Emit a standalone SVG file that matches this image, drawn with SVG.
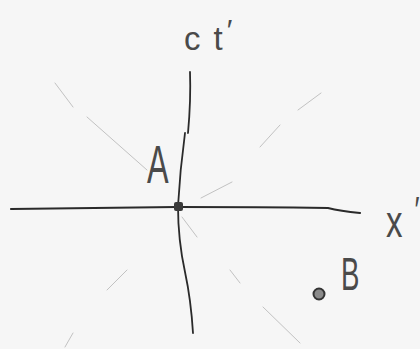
<svg xmlns="http://www.w3.org/2000/svg" width="420" height="349" viewBox="0 0 420 349">
<style>
.axis{fill:none;stroke:#2a2a2a;stroke-linecap:round;stroke-linejoin:round}
.cone{fill:none;stroke:#c2c2c2;stroke-width:1;stroke-linecap:round}
.lbl{font-family:"Liberation Sans",Arial,sans-serif;fill:#4a4a4a;font-weight:normal}
</style>
<rect width="420" height="349" fill="#f6f6f6"/>
<g id="connectors">
  <g id="light-cone">
    <path class="cone" d="M55 83 L73 107 M87 117 L147 170"/>
    <path class="cone" d="M321 93 L298 110 M280 125 L260 147 M232 182 L201 198"/>
    <path class="cone" d="M182 217 L197 237 M230 270 L240 283 M263 307 L300 343"/>
    <path class="cone" d="M127 270 L107 290 M73 333 L65 347"/>
  </g>
  <g id="axis-ct">
    <path class="axis" stroke-width="1.8" d="M190 72 Q191 100 188 133"/>
    <path class="axis" stroke-width="1.8" d="M185 133 Q180 170 178 206 Q178 240 185 272 Q191 300 193 333"/>
  </g>
  <g id="axis-x">
    <path class="axis" stroke-width="2.2" d="M11 209 Q100 208 177 207 Q260 207 328 208 Q340 211 360 213"/>
  </g>
</g>
<g id="event-A">
  <rect x="174" y="202" width="9" height="9" rx="2" fill="#3a3a3a"/>
  <text class="lbl" x="0" y="0" font-size="54" transform="translate(147 183) scale(0.6 1)">A</text>
</g>
<g id="event-B">
  <circle cx="319" cy="294" r="5.5" fill="#8a8a8a" stroke="#333" stroke-width="2"/>
  <text class="lbl" x="0" y="0" font-size="46" transform="translate(341 290) scale(0.6 1)">B</text>
</g>
<g id="label-ct">
  <text class="lbl" x="184" y="50" font-size="33">c<tspan dx="13">t</tspan><tspan dx="4" dy="-10" font-size="30">′</tspan></text>
</g>
<g id="label-x">
  <text class="lbl" x="386" y="237" font-size="44" transform="translate(386 0) scale(0.75 1) translate(-386 0)">x<tspan dx="16" dy="-14" font-size="36">′</tspan></text>
</g>
</svg>
